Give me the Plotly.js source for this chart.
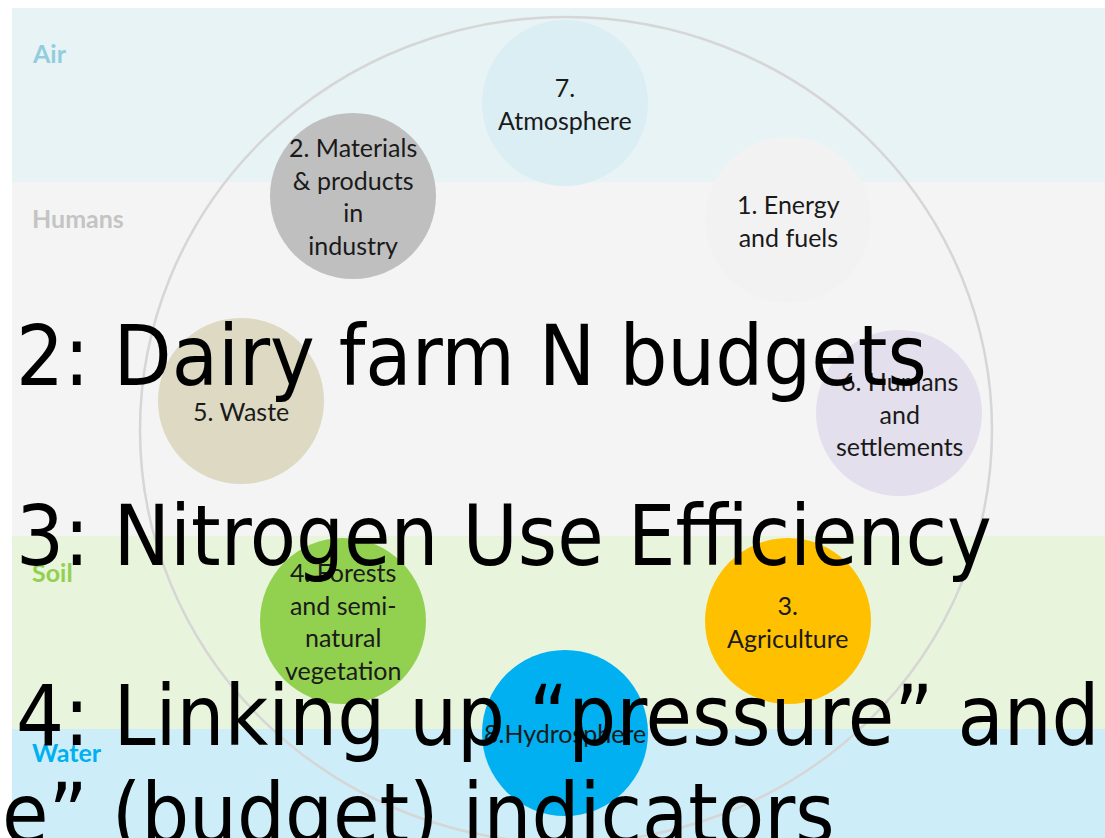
<!DOCTYPE html>
<html>
<head>
<meta charset="utf-8">
<script src="https://cdn.plot.ly/plotly-3.0.1.min.js"></script>
<style>html,body{margin:0;padding:0;background:#fff;}#chart{width:1105px;height:838px;}</style>
</head>
<body>
<div id="chart"></div>
<script>
// Bands (layers of the nitrogen cycle)
const bandNames = ["Air", "Humans", "Soil", "Water"];
const bandTop = [8, 182, 536, 729];
const bandBottom = [182, 536, 729, 838];
const bandFill = ["#e8f3f6", "#f4f4f4", "#e8f5dc", "#cdeef9"];
const bandLabelColor = ["#93cddd", "#c4c4c4", "#92d050", "#00b0f0"];
const bandLabelY = [53, 218, 572, 752];

// Sector circles
const circleLabels = [
  "7.<br>Atmosphere",
  "2. Materials<br>& products<br>in<br>industry",
  "1. Energy<br>and fuels",
  "5. Waste",
  "6. Humans<br>and<br>settlements",
  "4. Forests<br>and semi-<br>natural<br>vegetation",
  "3.<br>Agriculture",
  "8.Hydrosphere"
];
const circleX = [565, 353, 788, 241, 899, 343, 788, 565];
const circleY = [103, 196, 220, 401, 413, 621, 621, 733];
const circleColors = ["#daeef3", "#bfbfbf", "#f2f2f2", "#ddd9c3", "#e4dfec", "#92d050", "#ffc000", "#00b0f0"];
const labelShift = [0, 0, 0, -10, 0, 0, 0, 0];

// Slide headline items
const headlines = [
  "2: Dairy farm N budgets",
  "3: Nitrogen Use Efficiency",
  "4: Linking up \u201Cpressure\u201D and",
  "e\u201D (budget) indicators"
];
const headlineX = [14, 14, 14, 0];
const headlineY = [356, 536, 716, 814];

const shapes = [];
for (let i = 0; i < bandNames.length; i++) {
  shapes.push({type: "rect", xref: "x", yref: "y", x0: 12, x1: 1105, y0: bandTop[i], y1: bandBottom[i],
    fillcolor: bandFill[i], line: {width: 0}, layer: "below"});
}
shapes.push({type: "circle", xref: "x", yref: "y", x0: 140, x1: 992, y0: 17, y1: 843,
  line: {color: "#d6d6d6", width: 2.5}, fillcolor: "rgba(0,0,0,0)", layer: "below"});

const annotations = [];
for (let i = 0; i < bandNames.length; i++) {
  annotations.push({x: 30, y: bandLabelY[i], xref: "x", yref: "y", xanchor: "left", yanchor: "middle",
    text: "<b>" + bandNames[i] + "</b>", showarrow: false,
    font: {family: "Lato, 'Open Sans', sans-serif", size: 25, color: bandLabelColor[i]}});
}
for (let i = 0; i < circleLabels.length; i++) {
  annotations.push({x: circleX[i], y: circleY[i], xref: "x", yref: "y", xanchor: "center", yanchor: "middle",
    yshift: labelShift[i], text: circleLabels[i], showarrow: false, align: "center",
    font: {family: "Lato, 'Open Sans', sans-serif", size: 25, color: "#1a1a1a"}});
}
for (let i = 0; i < headlines.length; i++) {
  annotations.push({x: headlineX[i], y: headlineY[i], xref: "x", yref: "y", xanchor: "left", yanchor: "middle",
    text: headlines[i], showarrow: false,
    font: {family: "'DejaVu Sans Condensed', 'DejaVu Sans', sans-serif", size: 84, color: "#000000"}});
}

const trace = {
  type: "scatter", mode: "markers",
  x: circleX, y: circleY,
  marker: {size: 166, color: circleColors, line: {width: 0}, opacity: 1},
  hoverinfo: "skip", showlegend: false
};

const layout = {
  width: 1105, height: 838,
  margin: {l: 0, r: 0, t: 0, b: 0},
  paper_bgcolor: "#ffffff", plot_bgcolor: "#ffffff",
  xaxis: {range: [0, 1105], visible: false, fixedrange: true},
  yaxis: {range: [838, 0], visible: false, fixedrange: true},
  shapes: shapes, annotations: annotations, showlegend: false
};

Plotly.newPlot("chart", [trace], layout, {displayModeBar: false, staticPlot: true});
</script>
</body>
</html>
